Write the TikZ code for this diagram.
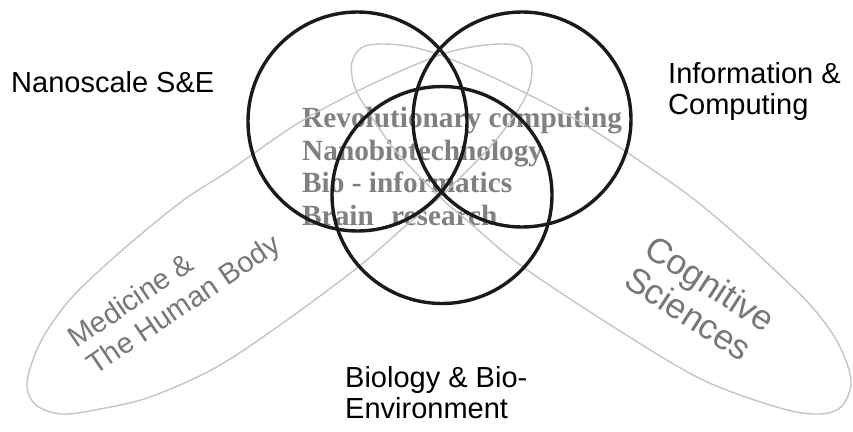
\documentclass[tikz,border=0pt]{standalone}
\usepackage{fontspec}
\setmainfont{Liberation Sans}
\newfontfamily\tnr{Liberation Serif}
\definecolor{ringblack}{HTML}{1A1A1A}
\definecolor{lobegray}{HTML}{C4C4C4}
\definecolor{midgray}{HTML}{808080}
\definecolor{lblgray}{HTML}{777777}
\begin{document}
\begin{tikzpicture}[x=1pt,y=-1pt,
  ring/.style={draw=ringblack, line width=3.4pt},
  lobe/.style={draw=lobegray, line width=1.4pt},
  lbl/.style={anchor=base west, inner sep=0pt, text=black, font=\fontsize{29}{33}\selectfont},
  glbl/.style={anchor=base west, inner sep=0pt, align=left, text=lblgray, font=\fontsize{29}{33}\selectfont},
  clbl/.style={anchor=base west, inner sep=0pt, align=left, text=lblgray, font=\fontsize{35}{37}\selectfont},
  core/.style={anchor=base west, inner sep=0pt, text=midgray, font=\tnr\bfseries\fontsize{29.3}{33}\selectfont}]
\useasboundingbox (0,0) rectangle (853,431);
% central texts
\node[core] (t1) at (302,127.5) {Revolutionary computing};
\node[core] (t2) at (302,160) {Nanobiotechnology};
\node[core] (t3) at (302,192.5) {Bio - informatics};
\node[core] (t4) at (302,225) {Brain\hspace{10pt} research};
% gray lobes
\draw[lobe] plot[smooth cycle, tension=0.55] coordinates {
  (27,383) (40,343) (67,303) (100,270) (140,235) (185,199) (230,170)
  (300,122) (370,85) (440,55) (485,45) (518,46) (531,62) (530,85)
  (518,110) (490,147) (440,197) (403,228) (357,268) (280,325)
  (215,368) (150,397) (100,409) (62,414) (36,405)};
\draw[lobe] plot[smooth cycle, tension=0.55] coordinates {
  (851,380) (838,343) (813,308) (780,275) (740,238) (695,200) (650,168)
  (580,122) (505,83) (440,55) (400,45) (365,46) (352,62) (354,85)
  (366,108) (395,150) (440,197) (470,223) (523,267) (620,331)
  (703,380) (780,408) (820,414) (842,406)};
% black rings
\coordinate (nano) at (357.5,121.5);
\coordinate (info) at (522,119.5);
\coordinate (bio) at (442,195);
\draw[ring] (nano) ellipse [x radius=109.5pt, y radius=109.5pt];
\draw[ring] (info) ellipse [x radius=109pt, y radius=107.5pt];
\draw[ring] (bio) ellipse [x radius=110pt, y radius=108.5pt];
% labels
\node[lbl] (nanolbl) at (11,92) {Nanoscale S\&E};
\node[lbl] (info1) at (668,83) {Information \&};
\node[lbl] (info2) at (668,114) {Computing};
\node[lbl] (bio1) at (345,387) {Biology \& Bio-};
\node[lbl] (bio2) at (345,418) {Environment};
\node[glbl, rotate=34] (med) at (95,376) {Medicine \&\\The Human Body};
\node[clbl, rotate=-33] (cog) at (622,285) {Cognitive\\Sciences};
\end{tikzpicture}
\end{document}
